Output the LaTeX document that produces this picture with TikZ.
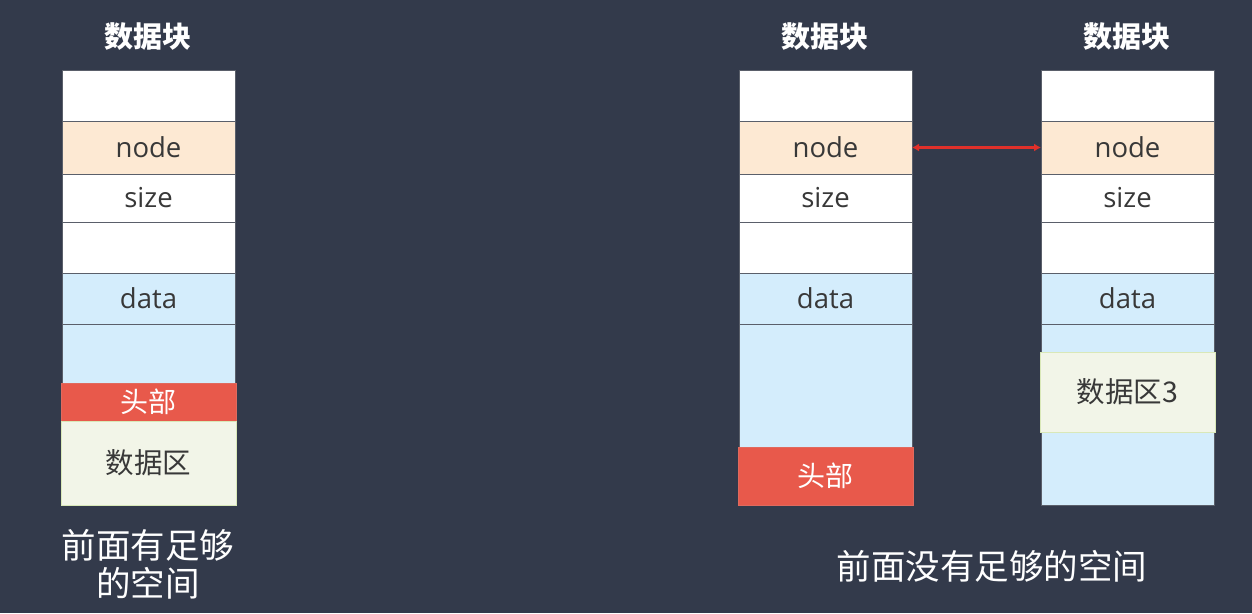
\documentclass[tikz,border=0pt]{standalone}
\usepackage{fontspec}
\setmainfont{Open Sans}
\newfontfamily\cjk{Noto Sans CJK SC}
\usetikzlibrary{arrows.meta}
\definecolor{bg}{HTML}{333A4B}
\definecolor{nodec}{HTML}{FDE9D3}
\definecolor{datac}{HTML}{D4EDFC}
\definecolor{headc}{HTML}{E8594B}
\definecolor{headb}{HTML}{E06A5E}
\definecolor{areac}{HTML}{F2F5E8}
\definecolor{areab}{HTML}{D9E8B8}
\definecolor{txt}{HTML}{383838}
\definecolor{edge}{HTML}{5A5F6A}
\definecolor{linkc}{HTML}{E0302A}
\begin{document}
\begin{tikzpicture}[x=1pt,y=-1pt,
  cell/.style={draw=edge, line width=0.8pt, anchor=north west, minimum width=173pt,
    inner sep=0pt, outer sep=0pt, text=txt, font=\fontsize{27.5}{27.5}\selectfont},
  whitecell/.style={cell, fill=white},
  nodecell/.style={cell, fill=nodec},
  datacell/.style={cell, fill=datac},
  headcell/.style={cell, fill=headc, draw=headb, minimum width=175pt, text=white,
    font=\cjk\fontsize{28}{28}\selectfont},
  areacell/.style={cell, fill=areac, draw=areab, minimum width=175pt,
    font=\cjk\fontsize{28.5}{28.5}\selectfont},
  title/.style={text=white, font=\cjk\bfseries\fontsize{29}{29}\selectfont},
  caption/.style={text=white, font=\cjk\fontsize{34.5}{38}\selectfont, align=center},
  link/.style={draw=linkc, line width=2.4pt, {Latex[length=7pt,width=8pt]}-{Latex[length=7pt,width=8pt]}}]
\fill[bg] (0,0) rectangle (1252,613);
\useasboundingbox (0,0) rectangle (1252,613);

% left column
\node[title] (lt) at (148,37) {数据块};
\node[whitecell, minimum height=51pt] (l1) at (62,70) {};
\node[nodecell, minimum height=53pt] (l2) at (62,121) {node};
\node[whitecell, minimum height=48pt] (l3) at (62,174) {size};
\node[whitecell, minimum height=51pt] (l4) at (62,222) {};
\node[datacell, minimum height=51pt] (l5) at (62,273) {data};
\node[datacell, minimum height=59pt] (l6) at (62,324) {};
\node[headcell, minimum height=38pt] (l7) at (61,383) {头部};
\node[areacell, minimum height=84pt] (l8) at (61,421) {数据区};
\node[caption] (lc) at (148,564) {前面有足够\\的空间};

% middle column
\node[title] (mt) at (825,37) {数据块};
\node[whitecell, minimum height=51pt] (m1) at (739,70) {};
\node[nodecell, minimum height=53pt] (m2) at (739,121) {node};
\node[whitecell, minimum height=48pt] (m3) at (739,174) {size};
\node[whitecell, minimum height=51pt] (m4) at (739,222) {};
\node[datacell, minimum height=51pt] (m5) at (739,273) {data};
\node[datacell, minimum height=123pt] (m6) at (739,324) {};
\node[headcell, minimum height=58pt] (m7) at (738,447) {头部};

% right column
\node[title] (rt) at (1127,37) {数据块};
\node[whitecell, minimum height=51pt] (r1) at (1041,70) {};
\node[nodecell, minimum height=53pt] (r2) at (1041,121) {node};
\node[whitecell, minimum height=48pt] (r3) at (1041,174) {size};
\node[whitecell, minimum height=51pt] (r4) at (1041,222) {};
\node[datacell, minimum height=51pt] (r5) at (1041,273) {data};
\node[datacell, minimum height=181pt] (r6) at (1041,324) {};
\node[areacell, minimum height=80pt] (r7) at (1040,352) {数据区3};

\node[caption] (rc) at (992,566) {前面没有足够的空间};

\draw[link] (m2.east) -- (r2.west);
\end{tikzpicture}
\end{document}
